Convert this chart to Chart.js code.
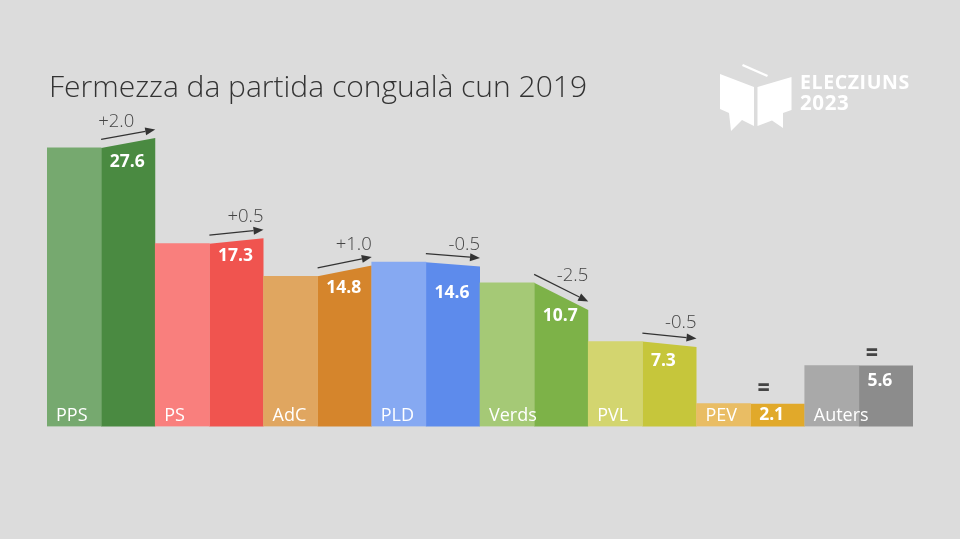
<!DOCTYPE html>
<html>
<head>
<meta charset="utf-8">
<script src="https://cdn.jsdelivr.net/npm/chart.js@4/dist/chart.umd.min.js"></script>
<style>
	html, body { margin: 0; padding: 0; background: #dcdcdc; }
	#wrap { width: 960px; height: 539px; }
</style>
</head>
<body>
<div id="wrap"><canvas id="chart"></canvas></div>

<script>
var parties = ["PPS", "PS", "AdC", "PLD", "Verds", "PVL", "PEV", "Auters"];
// bar heights as drawn in the picture (the PPS bar is drawn lower than its 27.6 label)
var share2019 = [25.6, 16.8, 13.8, 15.1, 13.2, 7.8, 2.1, 5.6];
var share2023 = [26.5, 17.3, 14.8, 14.7, 10.7, 7.3, 2.1, 5.6];
var valueLabels = ["27.6", "17.3", "14.8", "14.6", "10.7", "7.3", "2.1", "5.6"];
var changeLabels = ["+2.0", "+0.5", "+1.0", "-0.5", "-2.5", "-0.5", "=", "="];
var colors2019 = ["#76a96f", "#f97f7d", "#e0a660", "#86a9f2", "#a5c976", "#d3d56f", "#e9bd64", "#a9a9a9"];
var colors2023 = ["#4a8a41", "#f0544f", "#d5852c", "#5d8bec", "#7db248", "#c6c63b", "#e1a92a", "#8c8c8c"];

// hand placed text offsets, px
var changeDx = [-21, 0, 0, 0, 0, 0, 0, 0];
var changeDy = [-16.5, -21.5, -20.5, -21.5, -34.5, -24.5, -15, -12];
var valueDy = [19, 15, 17.5, 28.5, 19.5, 17, 11.5, 15.5];

var sans = '"Open Sans", "Noto Sans", sans-serif';

function drawArrow(ctx, x1, y1, x2, y2) {
	var a = Math.atan2(y2 - y1, x2 - x1);
	var len = 10, half = 4;
	var bx = x2 - len * Math.cos(a), by = y2 - len * Math.sin(a);
	ctx.strokeStyle = "#333";
	ctx.fillStyle = "#333";
	ctx.lineWidth = 1.2;
	ctx.beginPath();
	ctx.moveTo(x1, y1);
	ctx.lineTo(bx, by);
	ctx.stroke();
	ctx.beginPath();
	ctx.moveTo(x2, y2);
	ctx.lineTo(bx - half * Math.sin(a), by + half * Math.cos(a));
	ctx.lineTo(bx + half * Math.sin(a), by - half * Math.cos(a));
	ctx.closePath();
	ctx.fill();
}

function poly(ctx, pts) {
	ctx.beginPath();
	ctx.moveTo(pts[0], pts[1]);
	for (var i = 2; i < pts.length; i += 2) ctx.lineTo(pts[i], pts[i + 1]);
	ctx.closePath();
	ctx.fill();
}

function drawLogo(ctx) {
	ctx.fillStyle = "#fff";
	poly(ctx, [720, 74, 754, 87, 754, 126, 742, 120, 731, 131, 729, 113, 720, 109]);
	poly(ctx, [757.5, 87, 791.5, 77, 791.5, 110, 783, 113, 783, 128, 772, 120.5, 757.5, 126]);
	poly(ctx, [743, 64, 768, 75, 767, 77, 742, 66]);
	ctx.textAlign = "left";
	ctx.textBaseline = "middle";
	ctx.font = "700 19.5px " + sans;
	ctx.letterSpacing = "0.6px";
	ctx.fillText("ELECZIUNS", 800, 83.5);
	ctx.font = "700 20.5px " + sans;
	ctx.fillText("2023", 800, 104.5);
	ctx.letterSpacing = "0px";
}

var slantedBars = {
	id: "slantedBars",
	// the 2023 bars start at the 2019 level and slope to the 2023 level
	beforeDatasetDraw: function (chart, args) {
		if (args.index !== 1) return;
		var ctx = chart.ctx, y = chart.scales.y;
		var base = y.getPixelForValue(0);
		args.meta.data.forEach(function (bar, i) {
			var left = bar.x - bar.width / 2, right = bar.x + bar.width / 2;
			ctx.fillStyle = colors2023[i];
			poly(ctx, [left, base, left, y.getPixelForValue(share2019[i]), right, y.getPixelForValue(share2023[i]), right, base]);
		});
		return false;
	},
	afterDraw: function (chart) {
		var ctx = chart.ctx, y = chart.scales.y;
		var oldBars = chart.getDatasetMeta(0).data, newBars = chart.getDatasetMeta(1).data;
		ctx.save();

		ctx.fillStyle = "#333";
		ctx.textAlign = "left";
		ctx.textBaseline = "middle";
		ctx.font = "300 30px " + sans;
		ctx.fillText("Fermezza da partida congualà cun 2019", 49, 88.5);

		parties.forEach(function (name, i) {
			var oldBar = oldBars[i], newBar = newBars[i];
			var left = newBar.x - newBar.width / 2, right = newBar.x + newBar.width / 2;
			var top1 = y.getPixelForValue(share2019[i]), top2 = y.getPixelForValue(share2023[i]);

			ctx.fillStyle = "#fff";
			ctx.textAlign = "left";
			ctx.font = "400 18px " + sans;
			ctx.fillText(name, oldBar.x - oldBar.width / 2 + 9, 416);
			ctx.font = "700 17.5px " + sans;
			ctx.fillText(valueLabels[i], left + 8.5, (top1 + top2) / 2 + valueDy[i]);

			ctx.fillStyle = "#444";
			if (changeLabels[i] === "=") {
				ctx.textAlign = "center";
				ctx.font = "800 21px " + sans;
				ctx.fillText("=", newBar.x - 14, top2 + changeDy[i]);
			} else {
				ctx.textAlign = "right";
				ctx.font = "300 18.5px " + sans;
				ctx.fillText(changeLabels[i], right + changeDx[i], top2 + changeDy[i]);
				drawArrow(ctx, left, top1 - 8.5, right, top2 - 8.5);
			}
		});

		drawLogo(ctx);
		ctx.restore();
	}
};

new Chart(document.getElementById("chart").getContext("2d"), {
	type: "bar",
	data: {
		labels: parties,
		datasets: [
			{ label: "2019", data: share2019, backgroundColor: colors2019, barPercentage: 1, categoryPercentage: 1 },
			{ label: "2023", data: share2023, backgroundColor: colors2023, barPercentage: 1, categoryPercentage: 1 }
		]
	},
	options: {
		responsive: true,
		maintainAspectRatio: false,
		animation: false,
		layout: { padding: { left: 47, right: 47, top: 100, bottom: 112.5 } },
		plugins: { legend: { display: false }, tooltip: { enabled: false } },
		scales: {
			x: { display: false },
			y: { display: false, min: 0, max: 30 }
		}
	},
	plugins: [slantedBars]
});
</script>
</body>
</html>
